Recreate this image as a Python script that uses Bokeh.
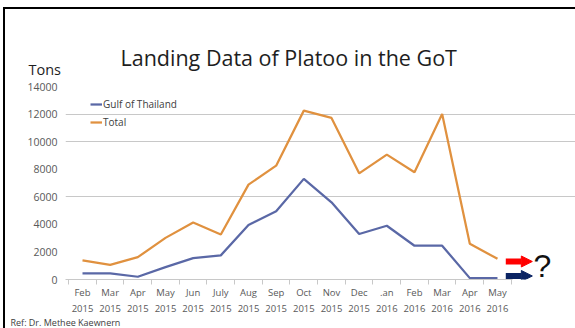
from bokeh.plotting import figure
from bokeh.models import (Range1d, FixedTicker, Grid, Legend, LegendItem, Label, Title,
                          Arrow, NormalHead)
from bokeh.embed import file_html
from bokeh.resources import INLINE

# ---- data ----
months = ["Feb\n2015", "Mar\n2015", "Apr\n2015", "May\n2015", "Jun\n2015", "July\n2015",
          "Aug\n2015", "Sep\n2015", "Oct\n2015", "Nov\n2015", "Dec\n2015", ".an\n2016",
          "Feb\n2016", "Mar\n2016", "Apr\n2016", "May\n2016"]
gulf = [450, 450, 200, 900, 1550, 1750, 3950, 4950, 7300, 5600, 3300, 3900, 2450, 2450, 100, 100]
total = [1380, 1060, 1620, 3020, 4130, 3260, 6880, 8260, 12250, 11720, 7700, 9060, 7780, 12000, 2590, 1500]
y_ticks = [0, 2000, 4000, 6000, 8000, 10000, 12000, 14000]
grid_ticks = [6000, 10000, 12000]
series_names = ["Gulf of Thailand", "Total"]
title_text = "Landing Data of Platoo in the GoT"
unit_text = "Tons"
ref_text = "Ref: Dr.  Methee Kaewnern"
# arrows after May 2016 (values in tons) and question mark
red_arrow_y = 1306
navy_arrow_y = 254
question_y = 1015

FONT = "Open Sans"
BLUE = "#5A68A6"
ORANGE = "#E0913F"
GRID = "#C8C8C8"
TXT = "#595959"

xs = list(range(len(months)))
x_lo, x_hi = -0.6145, 15.54

p = figure(width=575, height=328, output_backend="svg", toolbar_location=None,
           x_range=Range1d(x_lo, 17.82), y_range=Range1d(0, 15306),
           min_border_left=65, min_border_right=0, min_border_top=68, min_border_bottom=49)
p.outline_line_color = None
p.background_fill_color = "white"
p.border_fill_alpha = 0
p.styles = {"box-shadow": "inset 3px 7px 0 0 white, inset 5px 9px 0 0 black"}

# axes
p.xaxis.bounds = (x_lo, x_hi)
p.xaxis.ticker = FixedTicker(ticks=xs, minor_ticks=[i - 0.5 for i in range(len(months) + 1)])
p.xaxis.major_label_overrides = {i: m for i, m in enumerate(months)}
p.xaxis.major_tick_line_color = None
p.xaxis.major_tick_out = 0
p.xaxis.major_tick_in = 0
p.xaxis.minor_tick_line_color = GRID
p.xaxis.minor_tick_out = 5
p.xaxis.minor_tick_in = 0
p.xaxis.axis_line_color = GRID
p.xaxis.major_label_text_font = FONT
p.xaxis.major_label_text_font_size = "9.5px"
p.xaxis.major_label_text_color = TXT
p.xaxis.major_label_text_line_height = 1.27
p.xaxis.major_label_standoff = 1

p.yaxis.ticker = FixedTicker(ticks=y_ticks)
p.yaxis.axis_line_color = None
p.yaxis.major_tick_line_color = None
p.yaxis.major_tick_out = 0
p.yaxis.minor_tick_line_color = None
p.yaxis.major_label_text_font = FONT
p.yaxis.major_label_text_font_size = "10.5px"
p.yaxis.major_label_text_color = TXT
p.yaxis.major_label_standoff = 8

p.xgrid.visible = False
p.ygrid.visible = False
p.add_layout(Grid(dimension=1, ticker=FixedTicker(ticks=grid_ticks), bounds=(0, 14000),
                  grid_line_color=GRID, grid_line_width=1))

r_gulf = p.line(xs, gulf, line_color=BLUE, line_width=2.25)
r_total = p.line(xs, total, line_color=ORANGE, line_width=2.25)

legend = Legend(items=[LegendItem(label=series_names[0], renderers=[r_gulf]),
                       LegendItem(label=series_names[1], renderers=[r_total])],
                location=(25, 148), border_line_color=None, background_fill_alpha=0,
                glyph_width=12, glyph_height=18, label_height=18, spacing=0, padding=0,
                margin=0, label_standoff=1, label_text_font=FONT,
                label_text_font_size="10px", label_text_color="#404040")
p.add_layout(legend)

# titles (side panels)
p.add_layout(Title(text=unit_text, align="left", offset=-37, standoff=-20,
                   text_font=FONT, text_font_size="14.5px", text_font_style="normal",
                   text_color="#1e1e1e"), "above")
p.add_layout(Title(text=title_text, align="left", offset=55, standoff=-8,
                   text_font=FONT, text_font_size="21.5px", text_font_style="normal",
                   text_color="#1e1e1e"), "above")
p.add_layout(Title(text=ref_text, align="left", offset=-55, standoff=-7, vertical_align="middle",
                   text_font=FONT, text_font_size="9px", text_font_style="normal",
                   text_color="#404040"), "below")

# arrows and question mark
p.add_layout(Arrow(end=NormalHead(size=11, fill_color="#FF0000", line_color="#FF0000"),
                   x_start=15.3, y_start=red_arrow_y, x_end=16.26, y_end=red_arrow_y,
                   line_color="#FF0000", line_width=6))
p.add_layout(Arrow(end=NormalHead(size=11, fill_color="#0B2463", line_color="#0B2463"),
                   x_start=15.3, y_start=navy_arrow_y, x_end=16.26, y_end=navy_arrow_y,
                   line_color="#0B2463", line_width=6))
p.add_layout(Label(x=16.62, y=question_y, text="?", text_font="Liberation Sans",
                   text_font_size="32px", text_color="#111111", text_align="center",
                   text_baseline="middle"))

open("out.html", "w").write(file_html(p, INLINE))
